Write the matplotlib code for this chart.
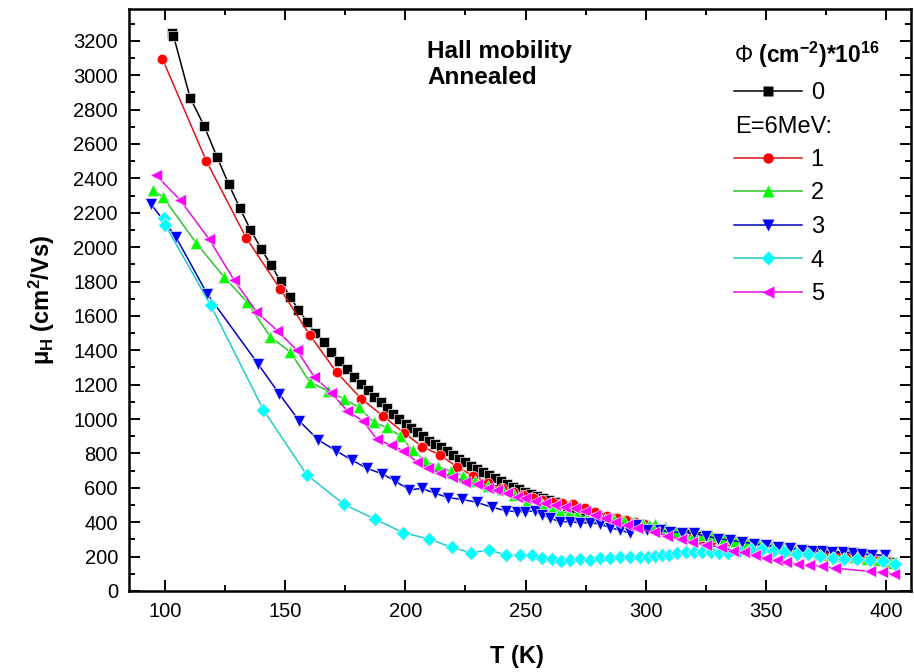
import matplotlib
matplotlib.use('Agg')
import matplotlib.pyplot as plt
from matplotlib.lines import Line2D
from matplotlib.ticker import MultipleLocator

# Dados: T (K) e mobilidade Hall (cm2/Vs)
T0 = [103.0, 103.5, 110.4, 116.2, 121.6, 126.5, 131.1, 135.5, 140.0, 144.1,
      148.1, 152.0, 155.5, 159.1, 162.6, 166.0, 169.2, 172.5, 175.6, 178.7,
      181.6, 184.3, 187.1, 189.7, 192.4, 195.0, 197.5, 200.2, 202.5, 205.0,
      207.5, 210.0, 212.4, 214.9, 217.4, 219.9, 222.4, 224.9, 227.4, 229.9,
      232.4, 234.9, 237.4, 239.9, 242.4, 244.9, 247.4, 249.9, 252.4, 254.9,
      257.4, 259.9, 262.4, 264.9, 267.4, 269.9, 272.4, 274.9, 277.4, 279.9,
      282.4, 284.9, 287.4, 289.9, 292.4, 294.9, 297.4, 299.9, 302.4, 304.9,
      307.4, 309.9, 312.4, 314.9, 317.4, 319.9, 322.4, 324.9, 327.4, 329.9,
      332.4, 334.9, 337.4, 339.9, 342.4, 344.9, 347.4, 349.9, 352.4, 354.9,
      357.4, 359.9, 362.4, 364.9, 367.4, 369.9, 372.4, 374.9, 377.4, 379.9,
      382.4, 384.9, 387.4, 389.9, 392.4, 394.9, 397.4, 399.9, 402.4]
mu0 = [3246, 3230, 2870, 2707, 2525, 2366, 2228, 2102, 1991, 1895,
       1802, 1712, 1636, 1567, 1499, 1449, 1392, 1338, 1290, 1243,
       1204, 1169, 1130, 1097, 1063, 1028, 1001, 973, 946, 923,
       900, 873, 853, 836, 815, 790, 768, 748, 728, 708,
       690, 672, 655, 638, 622, 607, 592, 578, 564, 551,
       539, 527, 515, 504, 492, 481, 471, 461, 451, 442,
       433, 424, 416, 407, 399, 391, 383, 376, 369, 362,
       355, 348, 342, 336, 330, 324, 318, 312, 307, 301,
       296, 291, 286, 281, 276, 271, 266, 262, 257, 253,
       248, 244, 240, 236, 232, 228, 224, 220, 216, 212,
       208, 204, 200, 196, 192, 187, 182, 176, 168]

T1 = [98.9, 117.2, 133.7, 148.0, 160.3, 171.4, 181.6, 190.7, 199.3, 207.0,
      214.4, 221.4, 228.0, 234.5, 240.1, 244.9, 249.1, 253.3, 256.8, 260.9,
      265.1, 269.9, 274.8, 279.0, 283.8, 288.0, 291.8, 295.6, 299.5, 303.5,
      307.5, 311.5, 315.5, 319.5, 323.5, 327.5, 331.5, 335.5, 339.5, 343.5,
      347.5, 351.5, 355.5, 359.5, 363.5, 367.5, 371.5, 375.5, 379.5, 383.5,
      387.5, 391.5, 395.5, 399.5, 403.5]
mu1 = [3095, 2501, 2055, 1755, 1487, 1272, 1119, 1018, 921, 840,
       791, 723, 671, 630, 597, 578, 558, 539, 529, 520,
       514, 506, 481, 461, 436, 423, 412, 403, 388, 372,
       352, 336, 326, 316, 306, 298, 290, 283, 276, 268,
       260, 251, 242, 234, 226, 218, 211, 205, 199, 193,
       187, 181, 174, 166, 156]

T2 = [95.0, 99.2, 113.0, 124.4, 134.1, 143.7, 152.2, 160.2, 167.7, 174.5,
      180.5, 186.9, 192.5, 197.9, 203.0, 208.3, 213.7, 218.9, 223.9, 229.0,
      234.5, 240.1, 245.3, 250.5, 256.8, 260.9, 264.4, 267.9, 271.5, 275.5,
      279.0, 283.0, 287.0, 291.0, 295.0, 299.0, 301.3, 304.0, 308.0, 312.0,
      316.0, 320.0, 324.0, 327.5, 332.0, 337.2, 342.0, 347.3, 352.0, 357.0,
      362.0, 367.0, 372.0, 377.0, 382.0, 387.0, 392.0, 397.0, 402.0]
mu2 = [2333, 2290, 2023, 1829, 1681, 1480, 1389, 1216, 1164, 1117,
       1070, 981, 951, 902, 818, 756, 723, 698, 671, 642,
       613, 593, 560, 520, 506, 475, 461, 452, 442, 432,
       425, 418, 412, 405, 400, 392, 381, 387, 372, 350,
       340, 332, 328, 322, 306, 293, 280, 268, 258, 250,
       240, 230, 220, 210, 202, 195, 188, 178, 165]

T3 = [94.2, 104.5, 117.5, 138.8, 147.6, 155.9, 163.8, 171.2, 177.7, 183.9,
      190.4, 195.7, 201.7, 206.8, 212.4, 217.9, 223.5, 229.7, 236.0, 241.8,
      246.4, 249.8, 254.0, 256.8, 260.2, 264.4, 268.5, 272.7, 276.9, 281.0,
      285.2, 289.3, 293.5, 296.0, 300.6, 306.0, 310.0, 315.0, 320.1, 325.0,
      330.0, 335.0, 340.0, 345.0, 350.0, 355.0, 360.0, 365.0, 369.0, 373.2,
      377.4, 382.3, 386.4, 390.0, 394.0, 399.6]
mu3 = [2250, 2059, 1729, 1319, 1145, 988, 878, 815, 762, 714,
       681, 640, 588, 597, 568, 543, 533, 516, 487, 467,
       461, 461, 467, 442, 423, 403, 403, 397, 397, 390,
       367, 355, 336, 381, 352, 352, 345, 340, 336, 320,
       305, 295, 285, 275, 265, 257, 248, 240, 234, 232,
       225, 225, 222, 215, 212, 207]

T4 = [99.6, 100.0, 119.0, 140.9, 159.0, 174.5, 187.5, 199.2, 209.9, 219.3,
      227.2, 235.0, 241.8, 247.5, 252.7, 256.9, 260.9, 264.8, 268.5, 272.7,
      276.9, 281.0, 285.2, 289.3, 293.5, 297.7, 301.0, 304.0, 306.8, 309.6,
      313.1, 316.6, 320.1, 323.6, 327.1, 330.3, 334.4, 339.0, 343.7, 348.3,
      352.9, 357.7, 362.9, 367.7, 372.6, 377.9, 382.6, 387.8, 393.4, 398.6,
      403.8]
mu4 = [2170, 2131, 1662, 1054, 675, 504, 417, 339, 302, 254,
       223, 238, 209, 207, 209, 190, 184, 176, 182, 184,
       180, 190, 190, 200, 196, 196, 200, 205, 208, 211,
       219, 225, 225, 225, 225, 219, 223, 235, 243, 243,
       233, 229, 215, 213, 204, 190, 186, 186, 180, 176,
       157]

T5 = [96.1, 106.1, 118.3, 128.8, 138.0, 146.7, 154.8, 162.0, 169.1, 175.9,
      182.3, 188.0, 194.0, 199.2, 204.7, 209.6, 214.4, 219.6, 224.8, 229.7,
      234.5, 238.0, 242.2, 246.4, 249.8, 254.0, 258.1, 262.3, 266.5, 270.6,
      274.8, 279.0, 283.1, 287.3, 292.1, 296.3, 303.3, 308.9, 314.5, 319.4,
      325.0, 331.3, 336.2, 341.1, 345.3, 350.2, 354.5, 358.3, 363.2, 368.0,
      373.2, 378.8, 393.4, 398.3, 403.2]
mu5 = [2420, 2277, 2047, 1807, 1625, 1514, 1402, 1247, 1154, 1047,
       989, 886, 847, 816, 752, 717, 688, 665, 636, 621,
       601, 588, 568, 549, 539, 525, 510, 500, 487, 481,
       465, 442, 423, 403, 384, 365, 342, 322, 303, 283,
       268, 254, 234, 225, 207, 190, 180, 170, 156, 151,
       144, 133, 114, 110, 99]

rotulos = ['0', '1', '2', '3', '4', '5']

plt.rcParams['font.family'] = ['Liberation Sans', 'DejaVu Sans']
plt.rcParams['mathtext.fontset'] = 'custom'
plt.rcParams['mathtext.rm'] = 'Liberation Sans'
plt.rcParams['mathtext.bf'] = 'Liberation Sans:bold'
plt.rcParams['mathtext.it'] = 'Liberation Sans:italic'

fig = plt.figure(figsize=(9.14, 6.72), dpi=100)
ax = fig.add_axes([129 / 914, 81 / 672, 782 / 914, 582 / 672])

# estilo de cada serie: (x, y, marcador, cor da linha, cor do marcador, tamanho)
series = [
    (T0, mu0, 's', 'black', 'black', 6.5),
    (T1, mu1, 'o', '#e01414', '#ff0000', 7.5),
    (T2, mu2, '^', '#2ec42e', '#00ff00', 8.5),
    (T3, mu3, 'v', '#0000c0', '#0000ff', 8.5),
    (T4, mu4, 'D', '#20cccc', '#00ffff', 6.8),
    (T5, mu5, '<', '#e010e0', '#ff00ff', 8.5),
]

handles = []
for (x, y, m, cl, cm, ms), rot in zip(series, rotulos):
    h, = ax.plot(x, y, marker=m, color=cl, lw=1.1, ms=ms,
                 mfc=cm, mec='#e8e8e8', mew=0.5, label=rot)
    handles.append(h)

ax.xaxis.set_major_locator(MultipleLocator(50))
ax.xaxis.set_minor_locator(MultipleLocator(25))
ax.yaxis.set_minor_locator(MultipleLocator(100))
ax.set_yticks(range(0, 3201, 200))
ax.set_xlim(85, 410.4)
ax.set_ylim(0, 3385)

for s in ax.spines.values():
    s.set_linewidth(1.8)
ax.tick_params(which='both', direction='in', top=True, right=True,
               labelsize=14.5, width=1.4, pad=8)
ax.tick_params(which='major', length=8)
ax.tick_params(which='minor', length=4.5)

ax.set_xlabel('T (K)', fontsize=17, fontweight='bold')
ax.xaxis.set_label_coords(0.496, -0.093)
ax.set_ylabel(r'μ$_\mathbf{H}$ (cm$^\mathbf{2}$/Vs)', fontsize=17, fontweight='bold')
ax.yaxis.set_label_coords(-0.092, 0.5)

fig.text(427 / 914, 1 - 58 / 672, 'Hall mobility', fontsize=17.5, fontweight='bold', va='baseline')
fig.text(427 / 914, 1 - 84 / 672, 'Annealed', fontsize=17.5, fontweight='bold', va='baseline')

# legenda com uma linha vazia para o texto E=6MeV:
vazio = Line2D([], [], color='none')
hs = [handles[0], vazio] + handles[1:]
labs = ['0', ' '] + rotulos[1:]
leg = ax.legend(hs, labs, loc='upper left', bbox_to_anchor=(734 / 914, 1 - 40 / 672),
                bbox_transform=fig.transFigure, frameon=False, fontsize=17,
                handlelength=2.9, handletextpad=0.35, labelspacing=0.49,
                borderpad=0, borderaxespad=0, alignment='left',
                title=r'$\Phi$ (cm$^{\mathbf{-2}}$)*10$^{\mathbf{16}}$',
                title_fontproperties={'weight': 'bold', 'size': 16.5})
for lh in leg.legend_handles:
    lh.set_markeredgecolor('none')
fig.text(735 / 914, 1 - 127 / 672, 'E=6MeV:', fontsize=17, va='center')

fig.savefig('out.png', dpi=100)
